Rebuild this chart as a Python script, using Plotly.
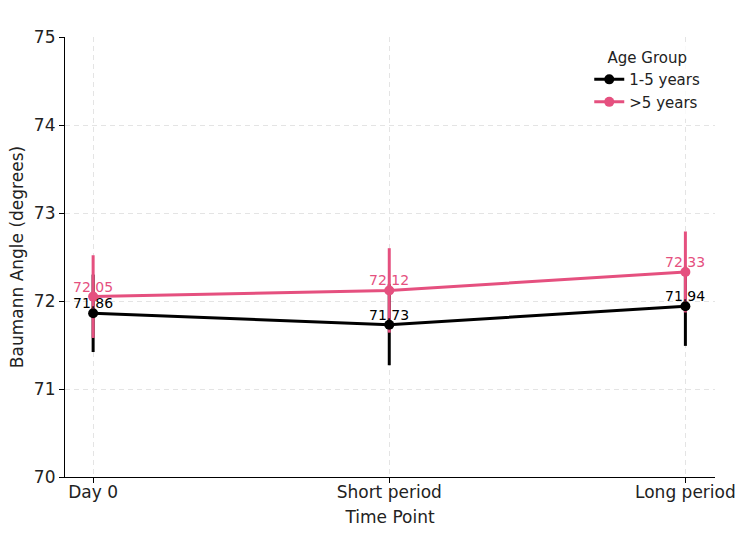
import plotly.graph_objects as go

categories = ["Day 0", "Short period", "Long period"]
x_pos = [0, 1, 2]
young_mean = [71.86, 71.73, 71.94]
young_err = [0.44, 0.46, 0.45]
old_mean = [72.05, 72.12, 72.33]
old_err = [0.47, 0.48, 0.46]
series_names = ["1-5 years", ">5 years"]
black = "#000000"
pink = "#E5507F"

fig = go.Figure()

# black error bars (underneath pink)
fig.add_trace(go.Scatter(
    x=x_pos, y=young_mean, mode="markers",
    marker=dict(size=1, color=black, opacity=0),
    error_y=dict(type="data", array=young_err, color=black, thickness=3, width=0),
    showlegend=False, hoverinfo="skip"))

# pink series
fig.add_trace(go.Scatter(
    x=x_pos, y=old_mean, mode="lines+markers", name=series_names[1],
    line=dict(color=pink, width=3), marker=dict(size=10, color=pink),
    error_y=dict(type="data", array=old_err, color=pink, thickness=3, width=0),
    legendrank=2))

# black series on top
fig.add_trace(go.Scatter(
    x=x_pos, y=young_mean, mode="lines+markers", name=series_names[0],
    line=dict(color=black, width=3), marker=dict(size=10, color=black),
    legendrank=1))

annotations = []
for xs, ys, col in [(x_pos, old_mean, pink), (x_pos, young_mean, black)]:
    for xv, yv in zip(xs, ys):
        annotations.append(dict(
            x=xv, y=yv, text=f"{yv:.2f}", showarrow=False,
            xanchor="center", yanchor="bottom", yshift=0,
            font=dict(color=col, size=14, family="DejaVu Sans")))

fig.update_layout(
    width=750, height=535,
    margin=dict(l=65, r=35, t=37, b=58),
    paper_bgcolor="white", plot_bgcolor="white",
    font=dict(family="DejaVu Sans", size=15, color="#222222"),
    annotations=annotations,
    legend=dict(
        title=dict(text="Age Group", side="top center", font=dict(size=15)),
        x=0.985, xanchor="right", y=0.985, yanchor="top",
        font=dict(size=15), bgcolor="rgba(255,255,255,0.8)",
        traceorder="normal"),
    xaxis=dict(
        range=[-0.095, 2.1], tickvals=x_pos, ticktext=categories,
        showline=True, linecolor="black", linewidth=1.2,
        ticks="outside", ticklen=5, tickcolor="black",
        ticklabelstandoff=-6,
        showgrid=True, gridcolor="#e4e4e4", griddash="5px,4px", gridwidth=1,
        zeroline=False, tickfont=dict(size=17),
        title=dict(text="Time Point", font=dict(size=17), standoff=10)),
    yaxis=dict(
        range=[70, 75], dtick=1,
        showline=True, linecolor="black", linewidth=1.2,
        ticks="outside", ticklen=5, tickcolor="black",
        showgrid=True, gridcolor="#e4e4e4", griddash="5px,4px", gridwidth=1,
        zeroline=False, tickfont=dict(size=17),
        title=dict(text="Baumann Angle (degrees)", font=dict(size=17), standoff=5)),
)

fig.write_html("out.html")
